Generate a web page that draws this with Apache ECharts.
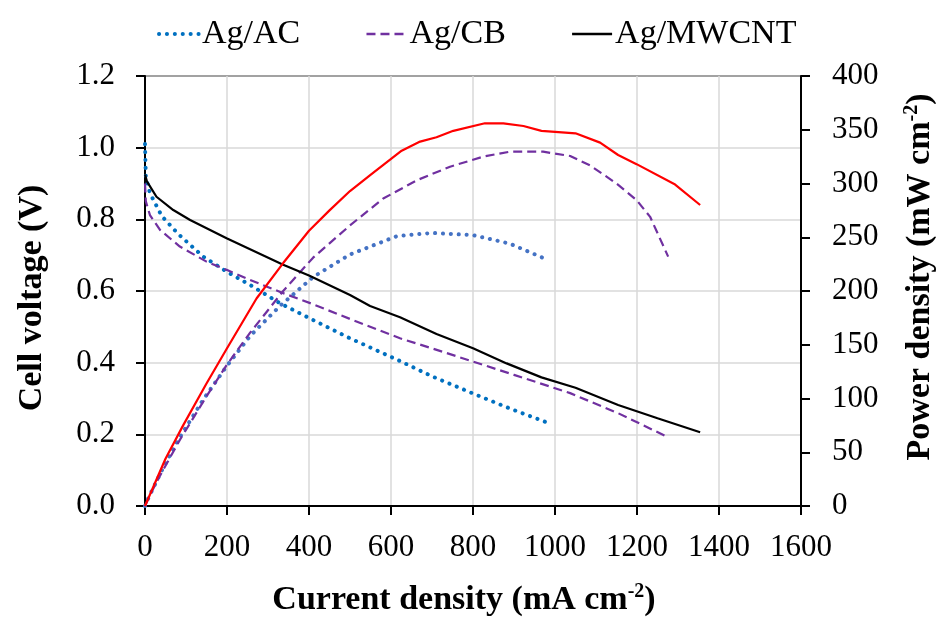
<!DOCTYPE html>
<html>
<head>
<meta charset="utf-8">
<script src="https://cdn.jsdelivr.net/npm/echarts@6/dist/echarts.min.js"></script>
<style>
html,body{margin:0;padding:0;background:#fff;}
#chart{width:936px;height:619px;}
</style>
</head>
<body>
<div id="chart"></div>
<script>
// ---- Data ----
var xTicks = [0, 200, 400, 600, 800, 1000, 1200, 1400, 1600];
var leftTicks = [0, 0.2, 0.4, 0.6, 0.8, 1.0, 1.2];
var rightTicks = [0, 50, 100, 150, 200, 250, 300, 350, 400];

var seriesNames = ['Ag/AC', 'Ag/CB', 'Ag/MWCNT'];

// Ag/AC
var acCurrent = [0, 2, 12, 41, 81, 142, 199, 256, 329, 410, 500, 614, 700, 800, 890, 976];
var acVoltage = [1.01, 0.92, 0.873, 0.809, 0.759, 0.696, 0.654, 0.617, 0.566, 0.519, 0.468, 0.409, 0.362, 0.314, 0.272, 0.235];
var acPower   = [0, 2, 10.5, 33, 61.5, 99, 130, 158, 186, 213, 234, 251, 254, 252, 244, 230];

// Ag/CB
var cbCurrentV = [0, 2, 12, 37, 85, 150, 199, 256, 337, 410, 500, 622, 700, 800, 900, 1037, 1154, 1270];
var cbVoltage  = [0.90, 0.85, 0.812, 0.770, 0.724, 0.682, 0.659, 0.631, 0.594, 0.563, 0.522, 0.468, 0.440, 0.403, 0.366, 0.315, 0.259, 0.195];
var cbCurrentP = [0, 12, 37, 85, 150, 199, 256, 337, 410, 500, 581, 663, 744, 825, 890, 971, 1037, 1085, 1150, 1199, 1232, 1276];
var cbPower    = [0, 10, 28.5, 61.5, 102, 131, 161, 200, 231, 261, 286, 303, 315.6, 325, 329.6, 329.6, 325.6, 317, 300, 284.6, 269, 232];

// Ag/MWCNT
var mwCurrentV = [0, 5, 28, 69, 110, 199, 337, 400, 500, 549, 622, 711, 800, 882, 967, 1050, 1154, 1250, 1354];
var mwVoltage  = [0.925, 0.905, 0.863, 0.826, 0.798, 0.747, 0.673, 0.643, 0.589, 0.558, 0.527, 0.480, 0.440, 0.398, 0.359, 0.330, 0.282, 0.245, 0.206];
var mwCurrentP = [0, 50, 93, 150, 199, 272, 337, 400, 450, 500, 550, 626, 671, 711, 752, 829, 874, 923, 967, 1050, 1110, 1154, 1199, 1293, 1354];
var mwPower    = [0, 44, 75, 114, 146, 193, 226, 256, 275, 293, 308, 330.5, 339, 343, 349, 356, 356, 353.5, 349, 346.7, 338, 326.5, 318, 299, 280];

function zip(xs, ys) { return xs.map(function (x, i) { return [x, ys[i]]; }); }

var FONT = '"Liberation Serif", "Times New Roman", serif';
var chart = echarts.init(document.getElementById('chart'));

function lineSeries(name, data, yIdx, color, width, dash, cap, z) {
  return {
    name: name, type: 'line', xAxisIndex: 0, yAxisIndex: yIdx,
    data: data, symbol: 'none', showSymbol: false, smooth: false,
    lineStyle: { color: color, width: width, type: dash, cap: cap },
    itemStyle: { color: color },
    emphasis: { disabled: true },
    z: z
  };
}

var DOT = [0.1, 7.8];
var DASH = [9, 5];
var TICK = 31;
var TITLE = 34;

var supRich = { sup: { fontFamily: FONT, fontSize: 20, fontWeight: 'bold', color: '#000', verticalAlign: 'top', lineHeight: 16 } };

var option = {
  animation: false,
  backgroundColor: '#fff',
  textStyle: { fontFamily: FONT },
  legend: {
    data: [
      { name: seriesNames[0], lineStyle: { width: 4, type: DOT, cap: 'round', color: '#0070C0' } },
      { name: seriesNames[1], lineStyle: { width: 2.5, type: DASH, color: '#7030A0' } },
      { name: seriesNames[2], lineStyle: { width: 2.5, type: 'solid', color: '#000' } }
    ],
    top: 12, left: 152,
    itemGap: 65, itemWidth: 40, itemHeight: 12,
    itemStyle: { opacity: 0 },
    textStyle: { fontFamily: FONT, fontSize: 34, color: '#000', padding: [0, 0, 0, -2] }
  },
  grid: {
    left: 145, right: 135, top: 76, bottom: 113,
    show: true, borderColor: '#000', borderWidth: 2,
    containLabel: false, outerBoundsMode: 'none'
  },
  xAxis: [{
    type: 'value', min: 0, max: 1600, interval: 200,
    name: 'Current density (mA cm{sup|-2})',
    nameLocation: 'middle', nameGap: 76,
    nameTextStyle: {
      fontFamily: FONT, fontSize: TITLE, fontWeight: 'bold', color: '#000', lineHeight: 36,
      padding: [0, 18, 0, 0],
      rich: supRich
    },
    axisLine: { show: true, lineStyle: { color: '#000', width: 2 } },
    axisTick: { show: true, inside: false, length: 9, lineStyle: { color: '#000', width: 2 } },
    axisLabel: { margin: 26, fontFamily: FONT, fontSize: TICK, color: '#000',
      formatter: function (v) { return xTicks.indexOf(v) >= 0 ? String(v) : ''; } },
    splitLine: { show: true, lineStyle: { color: '#d9d9d9', width: 1.5 } }
  }],
  yAxis: [{
    type: 'value', position: 'left', min: 0, max: 1.2, interval: 0.2,
    name: 'Cell voltage (V)', nameLocation: 'middle', nameGap: 96, nameRotate: 90,
    nameTextStyle: { fontFamily: FONT, fontSize: TITLE, fontWeight: 'bold', color: '#000',
      padding: [0, 14, 0, 0] },
    axisLine: { show: true, lineStyle: { color: '#000', width: 2 } },
    axisTick: { show: true, inside: false, length: 9, lineStyle: { color: '#000', width: 2 } },
    axisLabel: { margin: 30, fontFamily: FONT, fontSize: TICK, color: '#000',
      formatter: function (v) { return v.toFixed(1); } },
    splitLine: { show: true, lineStyle: { color: '#d9d9d9', width: 1.5 } }
  }, {
    type: 'value', position: 'right', min: 0, max: 400, interval: 50,
    name: 'Power density (mW cm{sup|-2})', nameLocation: 'middle', nameGap: 101, nameRotate: 90,
    nameTextStyle: {
      fontFamily: FONT, fontSize: TITLE, fontWeight: 'bold', color: '#000', lineHeight: 36,
      padding: [0, 0, 0, 28],
      rich: supRich
    },
    axisLine: { show: true, lineStyle: { color: '#000', width: 2 } },
    axisTick: { show: true, inside: false, length: 9, lineStyle: { color: '#000', width: 2 } },
    axisLabel: { margin: 31, fontFamily: FONT, fontSize: TICK, color: '#000' },
    splitLine: { show: false }
  }],
  series: [
    lineSeries('Ag/AC', zip(acCurrent, acVoltage), 0, '#0070C0', 4, DOT, 'round', 3),
    lineSeries('Ag/CB', zip(cbCurrentV, cbVoltage), 0, '#7030A0', 2.2, DASH, 'butt', 3),
    lineSeries('Ag/MWCNT', zip(mwCurrentV, mwVoltage), 0, '#000000', 2.2, 'solid', 'butt', 4),
    lineSeries('Ag/AC power', zip(acCurrent, acPower), 1, '#4472C4', 4, DOT, 'round', 3),
    lineSeries('Ag/CB power', zip(cbCurrentP, cbPower), 1, '#7030A0', 2.2, DASH, 'butt', 3),
    lineSeries('Ag/MWCNT power', zip(mwCurrentP, mwPower), 1, '#FF0000', 2.2, 'solid', 'butt', 4)
  ]
};
chart.setOption(option);
</script>
</body>
</html>
